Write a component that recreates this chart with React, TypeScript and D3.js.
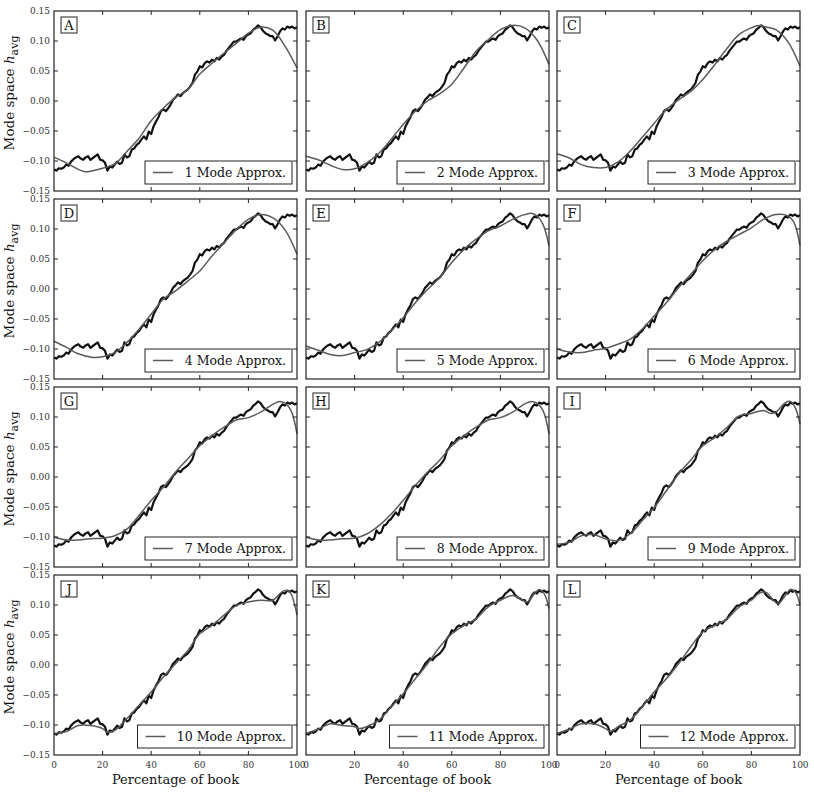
import React from "react";
import * as d3 from "d3";

// mode space h_avg of the book, one value per percent (0..100)
const hAvg = [
  -0.114, -0.116, -0.112, -0.113, -0.111, -0.106, -0.108, -0.101, -0.097, -0.094,
  -0.092, -0.096, -0.098, -0.094, -0.092, -0.098, -0.095, -0.092, -0.089, -0.098,
  -0.099, -0.103, -0.116, -0.109, -0.111, -0.106, -0.101, -0.105, -0.103, -0.089,
  -0.094, -0.092, -0.081, -0.079, -0.073, -0.07, -0.064, -0.059, -0.064, -0.051,
  -0.055, -0.042, -0.034, -0.027, -0.017, -0.014, -0.017, -0.012, -0.006, 0.002,
  0.006, 0.011, 0.008, 0.013, 0.016, 0.019, 0.024, 0.03, 0.044, 0.049,
  0.058, 0.056, 0.063, 0.066, 0.064, 0.069, 0.066, 0.072, 0.069, 0.074,
  0.077, 0.084, 0.089, 0.094, 0.099, 0.099, 0.102, 0.104, 0.102, 0.108,
  0.111, 0.113, 0.119, 0.122, 0.126, 0.123, 0.117, 0.113, 0.111, 0.108,
  0.108, 0.101, 0.108, 0.116, 0.121, 0.119, 0.124, 0.122, 0.124, 0.121,
  0.123,
];

// n-mode approximations: [percent, value]
const mode1 = [[0, -0.094], [5, -0.103], [10, -0.114], [13, -0.118], [15, -0.117], [20, -0.112], [25, -0.105], [30, -0.084], [35, -0.062], [40, -0.033], [45, -0.012], [50, 0.006], [55, 0.019], [60, 0.045], [65, 0.063], [70, 0.08], [75, 0.096], [80, 0.113], [85, 0.123], [90, 0.118], [95, 0.092], [100, 0.055]];
const mode2 = [[0, -0.092], [5, -0.098], [10, -0.107], [15, -0.114], [20, -0.113], [25, -0.103], [30, -0.087], [35, -0.064], [40, -0.039], [45, -0.017], [50, 0.0], [55, 0.012], [60, 0.028], [65, 0.055], [70, 0.083], [75, 0.102], [80, 0.119], [85, 0.126], [90, 0.122], [95, 0.102], [100, 0.061]];
const mode3 = [[0, -0.088], [5, -0.095], [10, -0.106], [15, -0.111], [20, -0.111], [25, -0.102], [30, -0.084], [35, -0.061], [40, -0.037], [45, -0.014], [50, 0.002], [55, 0.016], [60, 0.036], [65, 0.061], [70, 0.088], [75, 0.111], [80, 0.122], [83, 0.126], [85, 0.124], [90, 0.119], [95, 0.099], [100, 0.058]];
const mode4 = [[0, -0.087], [5, -0.097], [10, -0.108], [16, -0.114], [20, -0.113], [25, -0.106], [30, -0.089], [35, -0.067], [40, -0.042], [45, -0.017], [50, -0.003], [55, 0.013], [60, 0.03], [65, 0.055], [70, 0.077], [75, 0.099], [80, 0.116], [85, 0.124], [90, 0.119], [95, 0.099], [100, 0.058]];
const mode5 = [[0, -0.095], [5, -0.102], [10, -0.109], [15, -0.111], [20, -0.106], [25, -0.101], [30, -0.089], [35, -0.07], [40, -0.048], [45, -0.023], [50, -0.001], [55, 0.019], [60, 0.044], [65, 0.066], [70, 0.083], [75, 0.097], [80, 0.105], [85, 0.116], [90, 0.124], [93, 0.126], [95, 0.122], [97.5, 0.108], [100, 0.072]];
const mode6 = [[0, -0.1], [5, -0.105], [10, -0.106], [15, -0.102], [20, -0.099], [25, -0.092], [30, -0.084], [35, -0.067], [40, -0.045], [45, -0.023], [50, 0.002], [55, 0.024], [60, 0.047], [65, 0.066], [70, 0.08], [75, 0.091], [80, 0.102], [85, 0.116], [90, 0.124], [95, 0.122], [97.5, 0.111], [100, 0.072]];
const mode7 = [[0, -0.1], [5, -0.105], [10, -0.105], [15, -0.103], [20, -0.102], [25, -0.098], [30, -0.087], [35, -0.064], [40, -0.039], [45, -0.017], [50, 0.008], [55, 0.03], [60, 0.052], [65, 0.069], [70, 0.083], [75, 0.095], [80, 0.099], [85, 0.108], [90, 0.121], [93, 0.126], [95, 0.123], [97.5, 0.111], [100, 0.072]];
const mode8 = [[0, -0.1], [5, -0.105], [10, -0.105], [15, -0.103], [20, -0.102], [25, -0.095], [30, -0.081], [35, -0.062], [40, -0.039], [45, -0.014], [50, 0.008], [55, 0.028], [60, 0.052], [65, 0.069], [70, 0.083], [75, 0.095], [80, 0.099], [85, 0.108], [90, 0.122], [93, 0.126], [95, 0.123], [97.5, 0.111], [100, 0.072]];
const mode9 = [[0, -0.112], [5, -0.109], [10, -0.098], [15, -0.096], [20, -0.103], [25, -0.106], [30, -0.095], [35, -0.073], [40, -0.051], [45, -0.023], [50, 0.005], [55, 0.028], [60, 0.052], [65, 0.066], [70, 0.083], [75, 0.102], [80, 0.106], [85, 0.111], [88, 0.106], [90, 0.108], [94, 0.124], [96, 0.126], [98, 0.116], [100, 0.088]];
const mode10 = [[0, -0.114], [5, -0.111], [10, -0.101], [15, -0.101], [20, -0.106], [22, -0.112], [25, -0.109], [30, -0.089], [35, -0.067], [40, -0.045], [45, -0.02], [50, 0.002], [55, 0.024], [60, 0.052], [65, 0.066], [70, 0.083], [75, 0.099], [80, 0.105], [85, 0.108], [90, 0.108], [93, 0.119], [95, 0.124], [97, 0.122], [100, 0.083]];
const mode11 = [[0, -0.114], [5, -0.107], [10, -0.098], [15, -0.101], [20, -0.103], [22, -0.106], [25, -0.103], [30, -0.092], [35, -0.07], [40, -0.048], [45, -0.023], [50, 0.002], [55, 0.03], [60, 0.052], [65, 0.066], [70, 0.077], [75, 0.097], [80, 0.108], [85, 0.116], [88, 0.111], [91, 0.105], [94, 0.119], [96, 0.126], [98, 0.119], [100, 0.094]];
const mode12 = [[0, -0.114], [5, -0.107], [10, -0.098], [15, -0.098], [20, -0.106], [22, -0.111], [25, -0.103], [30, -0.092], [35, -0.07], [40, -0.045], [45, -0.023], [50, 0.002], [55, 0.03], [60, 0.055], [65, 0.066], [70, 0.077], [75, 0.097], [80, 0.108], [83, 0.119], [86, 0.121], [89, 0.108], [91, 0.102], [94, 0.116], [96, 0.126], [98, 0.122], [100, 0.1]];

const modeCurves = [mode1, mode2, mode3, mode4, mode5, mode6, mode7, mode8, mode9, mode10, mode11, mode12];
const panelLetters = ["A", "B", "C", "D", "E", "F", "G", "H", "I", "J", "K", "L"];
const modeCounts = [1, 2, 3, 4, 5, 6, 7, 8, 9, 10, 11, 12];
const yTicks = [-0.15, -0.1, -0.05, 0, 0.05, 0.1, 0.15];
const xTicks = [0, 20, 40, 60, 80, 100];

const colLeft = [54, 306, 557];
const rowTop = [11, 199, 387, 575];
const W = 243;
const H = 180;
const serif = { fontFamily: "'DejaVu Serif', serif" };
const fmtY = d3.format(".2f");

const x = d3.scaleLinear().domain([0, 100]).range([0, W]);
const y = d3.scaleLinear().domain([-0.15, 0.15]).range([H, 0]);

const dataLine = d3
  .line<number>()
  .x((d, i) => x(i))
  .y((d) => y(d));

const modeLine = d3
  .line<number[]>()
  .x((d) => x(d[0]))
  .y((d) => y(d[1]))
  .curve(d3.curveCatmullRom.alpha(0.5));

const Panel = ({ idx }: { idx: number }) => {
  const row = Math.floor(idx / 3);
  const col = idx % 3;
  const left = colLeft[col];
  const top = rowTop[row];
  const label = `${modeCounts[idx]} Mode Approx.`;
  const boxW = 147 + (label.length - 14) * 7.5;
  const boxH = 23;
  const boxX = W - 5 - boxW;
  const boxY = H - 7 - boxH;

  return (
    <g transform={`translate(${left},${top})`}>
      <rect x={0} y={0} width={W} height={H} fill="white" />
      <path d={dataLine(hAvg) ?? ""} fill="none" stroke="#111" strokeWidth={2.2} strokeLinejoin="round" />
      <path d={modeLine(modeCurves[idx]) ?? ""} fill="none" stroke="#5a5a5a" strokeWidth={1.5} />

      {/* ticks on all four sides, pointing in */}
      {xTicks.slice(1, -1).map((t) => (
        <g key={"xt" + t}>
          <line x1={x(t)} x2={x(t)} y1={H} y2={H - 4} stroke="#222" />
          <line x1={x(t)} x2={x(t)} y1={0} y2={4} stroke="#222" />
        </g>
      ))}
      {yTicks.slice(1, -1).map((t) => (
        <g key={"yt" + t}>
          <line x1={0} x2={4} y1={y(t)} y2={y(t)} stroke="#222" />
          <line x1={W} x2={W - 4} y1={y(t)} y2={y(t)} stroke="#222" />
        </g>
      ))}
      <rect x={0} y={0} width={W} height={H} fill="none" stroke="#222" strokeWidth={1.2} />

      {col === 0 &&
        yTicks.map((t) => (
          <text key={"yl" + t} x={-4} y={y(t)} dy="0.35em" textAnchor="end" fontSize={9} style={serif} fill="#333">
            {fmtY(t)}
          </text>
        ))}
      {row === 3 &&
        xTicks.map((t) => (
          <text key={"xl" + t} x={x(t)} y={H + 13} textAnchor="middle" fontSize={9} style={serif} fill="#333">
            {t}
          </text>
        ))}
      {row === 3 && (
        <text x={W / 2} y={H + 29} textAnchor="middle" fontSize={13} style={serif} fill="#111">
          Percentage of book
        </text>
      )}
      {col === 0 && (
        <text transform={`translate(${-40},${H / 2 - 8}) rotate(-90)`} textAnchor="middle" fontSize={13.5} style={serif} fill="#111">
          Mode space <tspan fontStyle="italic">h</tspan>
          <tspan fontSize={11} dy={4}>avg</tspan>
        </text>
      )}

      {/* panel letter */}
      <rect x={7} y={6} width={16} height={16} fill="white" stroke="#222" strokeWidth={1} />
      <text x={15} y={19} textAnchor="middle" fontSize={13} style={serif} fill="#111">
        {panelLetters[idx]}
      </text>

      {/* legend */}
      <rect x={boxX} y={boxY} width={boxW} height={boxH} fill="white" stroke="#222" strokeWidth={1} />
      <line x1={boxX + 8} x2={boxX + 28} y1={boxY + boxH / 2} y2={boxY + boxH / 2} stroke="#5a5a5a" strokeWidth={1.5} />
      <text x={boxX + boxW - 6} y={boxY + 16} textAnchor="end" fontSize={12.5} style={serif} fill="#111">
        {label}
      </text>
    </g>
  );
};

export default function App() {
  return (
    <div style={{ position: "absolute", left: 0, top: 0 }}>
      <svg width={814} height={794} style={{ display: "block", background: "white" }}>
        {panelLetters.map((l, i) => (
          <Panel key={l} idx={i} />
        ))}
      </svg>
    </div>
  );
}
